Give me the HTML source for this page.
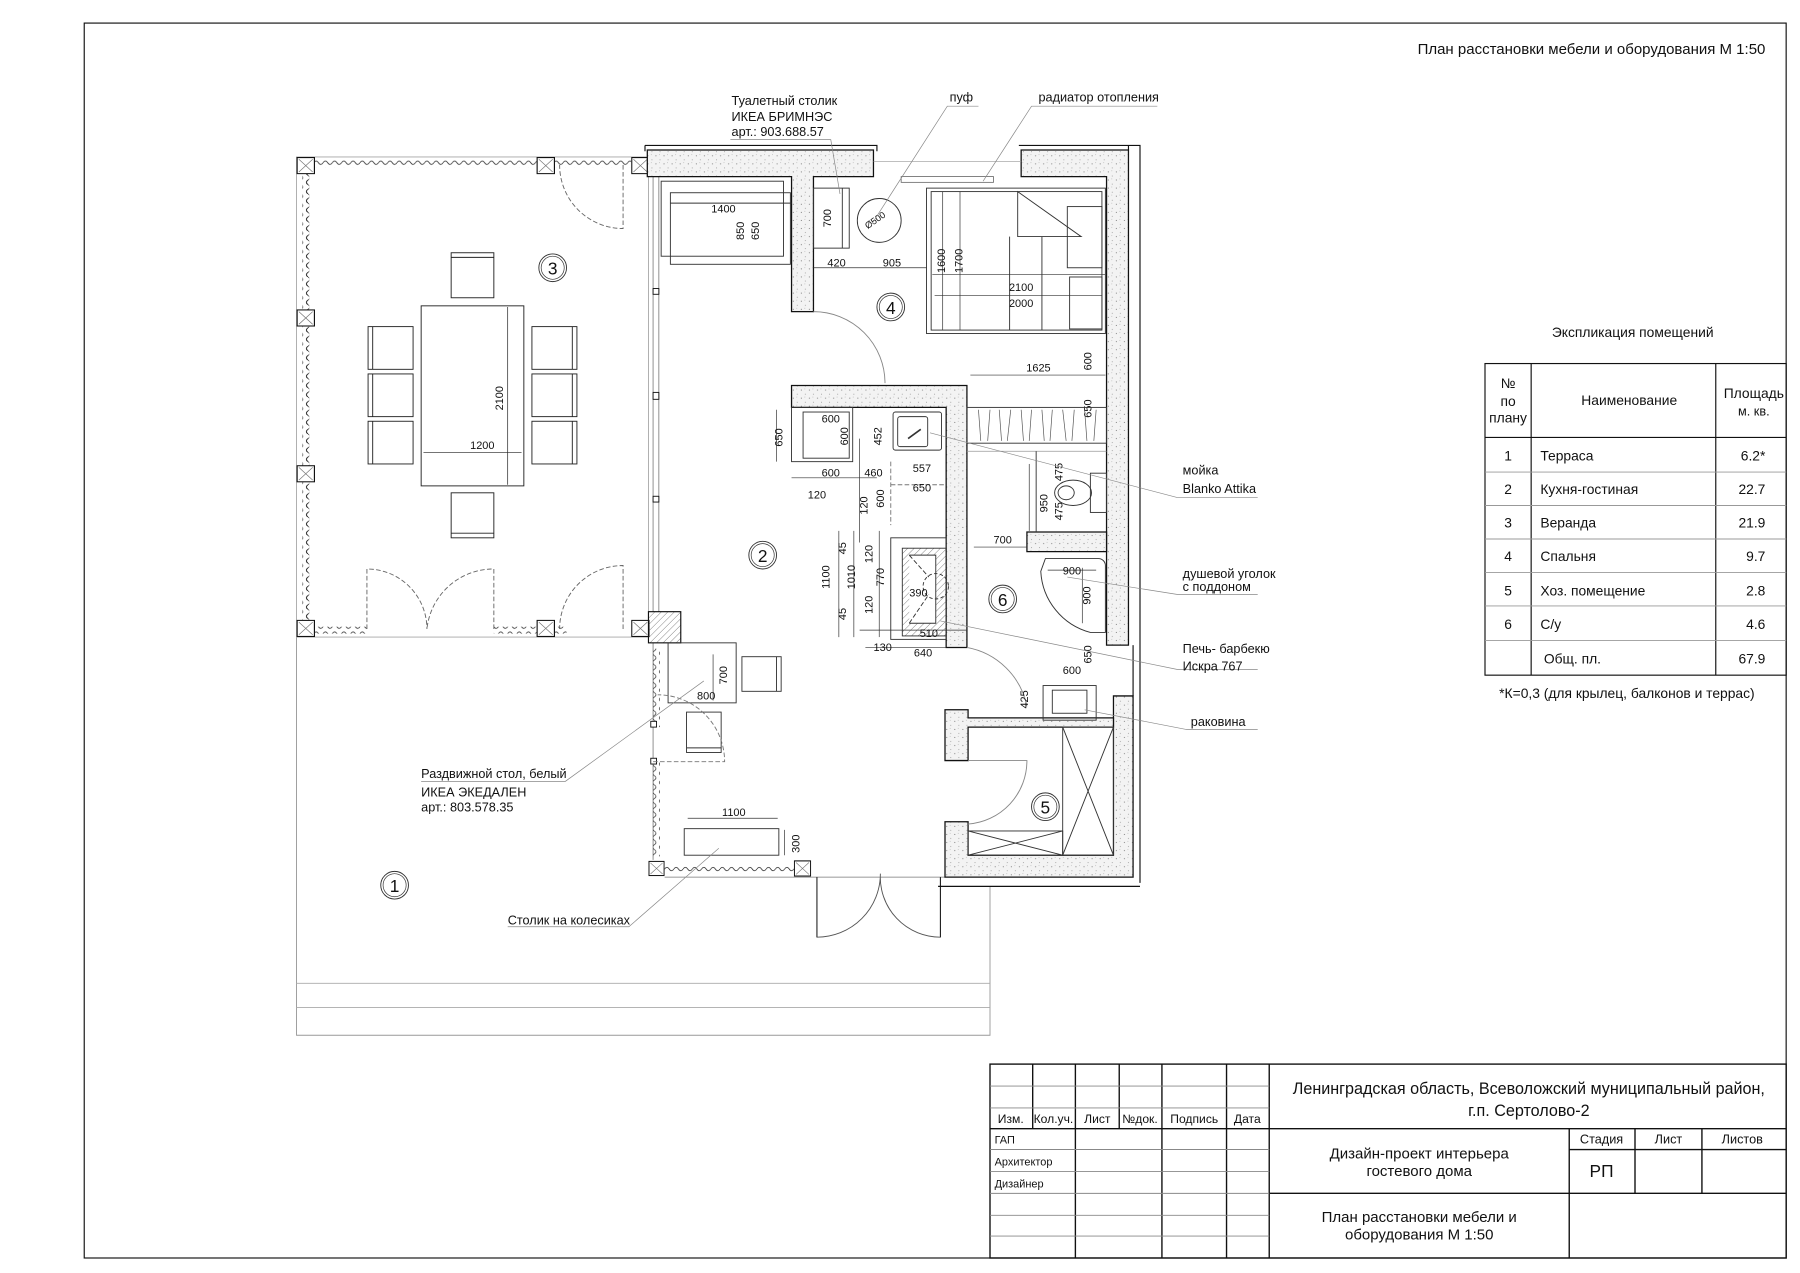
<!DOCTYPE html>
<html><head><meta charset="utf-8"><style>
html,body{margin:0;padding:0;background:#fff;}
svg{display:block;}
text{font-family:"Liberation Sans","DejaVu Sans",sans-serif;fill:#111;}
.t{font-size:11px;}
.d{font-size:9.5px;}
</style></head><body>
<svg width="1800" height="1273" viewBox="0 0 1560 1103" preserveAspectRatio="none" xmlns="http://www.w3.org/2000/svg">
<defs>
<pattern id="st" width="7" height="7" patternUnits="userSpaceOnUse">
<rect width="7" height="7" fill="#f3f3f3"/>
<circle cx="1.5" cy="2" r="0.45" fill="#666"/><circle cx="5" cy="5.5" r="0.4" fill="#777"/><circle cx="4.5" cy="1" r="0.3" fill="#888"/>
</pattern>
<pattern id="wv" width="6" height="8" patternUnits="userSpaceOnUse">
<path d="M3 0 Q6 2 3 4 Q0 6 3 8" fill="none" stroke="#222" stroke-width="0.6"/>
</pattern>
<pattern id="wh" width="8" height="6" patternUnits="userSpaceOnUse">
<path d="M0 3 Q2 0 4 3 Q6 6 8 3" fill="none" stroke="#222" stroke-width="0.6"/>
</pattern>
<pattern id="hh" width="4" height="4" patternUnits="userSpaceOnUse" patternTransform="rotate(45)">
<line x1="0" y1="0" x2="0" y2="4" stroke="#555" stroke-width="0.6"/>
</pattern>
<symbol id="post" viewBox="0 0 16 15"><rect x="0.5" y="0.5" width="15" height="14" fill="#fff" stroke="#111" stroke-width="1"/><path d="M2 2 L14 13 M14 2 L2 13" stroke="#777" stroke-width="0.6"/></symbol>
</defs>

<!-- frame -->
<rect x="73" y="20" width="1475" height="1070" fill="none" stroke="#111" stroke-width="1"/>
<text x="1530" y="47" text-anchor="end" style="font-size:13px">План расстановки мебели и оборудования М 1:50</text>

<g fill="none" stroke="#222" stroke-width="0.8">
<!-- terrace -->
<path d="M257 552 V897 H858 V768" stroke="#999"/>
<line x1="257" y1="852" x2="858" y2="852" stroke="#aaa"/>
<line x1="257" y1="873" x2="858" y2="873" stroke="#aaa"/>
<!-- veranda outline -->
<rect x="257" y="136" width="305" height="416" stroke="#aaa"/>
<rect x="264" y="144" width="3" height="400" fill="url(#wv)" stroke="none"/>
<rect x="262" y="141" width="6" height="403" fill="url(#wv)" stroke="none"/>
<rect x="273" y="139" width="192" height="6" fill="url(#wh)" stroke="none"/>
<rect x="481" y="139" width="66" height="6" fill="url(#wh)" stroke="none"/>
<rect x="273" y="543" width="45" height="6" fill="url(#wh)" stroke="none"/>
<rect x="428" y="543" width="37" height="6" fill="url(#wh)" stroke="none"/>
<rect x="481" y="543" width="10" height="6" fill="url(#wh)" stroke="none"/>
<!-- doors veranda (dashed) -->
<g stroke="#666" stroke-dasharray="4 2">
<path d="M540 143 V198 A55 55 0 0 1 485 143"/>
<path d="M318 545 V493 A52 52 0 0 1 370 545"/>
<path d="M428 545 V493 A58 58 0 0 0 370 545"/>
<path d="M540 545 V490 A55 55 0 0 0 485 545"/>
</g>
<!-- dining table & chairs -->
<rect x="365" y="265" width="89" height="156"/>
<rect x="391" y="219" width="37" height="39"/><line x1="391" y1="223" x2="428" y2="223"/>
<rect x="391" y="427" width="37" height="39"/><line x1="391" y1="462" x2="428" y2="462"/>
<rect x="319" y="283" width="39" height="37"/><rect x="319" y="324" width="39" height="37"/><rect x="319" y="365" width="39" height="37"/>
<path d="M323 283V320M323 324V361M323 365V402"/>
<rect x="461" y="283" width="39" height="37"/><rect x="461" y="324" width="39" height="37"/><rect x="461" y="365" width="39" height="37"/>
<path d="M496 283V320M496 324V361M496 365V402"/>
<line x1="367" y1="392" x2="452" y2="392" stroke-width="0.6"/>
<line x1="440" y1="266" x2="440" y2="420" stroke-width="0.6"/>
</g>
<text x="418" y="389" class="d" text-anchor="middle">1200</text>
<text x="436" y="345" class="d" transform="rotate(-90 436 345)" text-anchor="middle">2100</text>
<!-- posts -->
<use href="#post" x="257" y="136" width="16" height="15"/>
<use href="#post" x="465" y="136" width="16" height="15"/>
<use href="#post" x="547" y="136" width="16" height="15"/>
<use href="#post" x="257" y="268" width="16" height="15"/>
<use href="#post" x="257" y="403" width="16" height="15"/>
<use href="#post" x="257" y="537" width="16" height="15"/>
<use href="#post" x="465" y="537" width="16" height="15"/>
<use href="#post" x="547" y="537" width="16" height="15"/>
<use href="#post" x="562" y="745" width="14" height="15"/>
<use href="#post" x="688" y="745" width="15" height="15"/>
<circle cx="479" cy="232" r="12" fill="none" stroke="#333" stroke-width="0.8"/><circle cx="479" cy="232" r="10" fill="none" stroke="#333" stroke-width="0.6"/>
<text x="479" y="238" text-anchor="middle" style="font-size:15px">3</text>

<!-- living glass wall -->
<g fill="none" stroke="#777" stroke-width="0.7">
<line x1="566" y1="153" x2="566" y2="530"/><line x1="571" y1="153" x2="571" y2="530"/>
<line x1="566" y1="557" x2="566" y2="745"/>
<line x1="576" y1="760" x2="858" y2="760"/>
</g>
<rect x="566" y="562" width="6" height="68" fill="url(#wv)"/>
<rect x="566" y="660" width="6" height="82" fill="url(#wv)"/>
<rect x="576" y="751" width="112" height="6" fill="url(#wh)"/>
<g fill="#fff" stroke="#111" stroke-width="0.8">
<rect x="566" y="250" width="5" height="5"/><rect x="566" y="340" width="5" height="6"/><rect x="566" y="430" width="5" height="5"/>
<rect x="564" y="625" width="5" height="5"/><rect x="564" y="657" width="5" height="5"/>
</g>
<rect x="562" y="530" width="28" height="27" fill="url(#hh)" stroke="#111" stroke-width="1"/>
<!-- small dining -->
<g fill="none" stroke="#333" stroke-width="0.8">
<rect x="579" y="557" width="59" height="52"/>
<rect x="643" y="569" width="34" height="30"/><line x1="673" y1="569" x2="673" y2="599"/>
<rect x="595" y="617" width="30" height="35"/><line x1="595" y1="648" x2="625" y2="648"/>
<path d="M566 660 H628 A58 58 0 0 0 570 602" stroke="#777" stroke-dasharray="4 2"/>
<rect x="593" y="718" width="82" height="23"/>
<line x1="596" y1="709" x2="674" y2="709" stroke-width="0.6"/>
<line x1="680" y1="719" x2="680" y2="741" stroke-width="0.6"/>
<line x1="618" y1="567" x2="618" y2="607" stroke-width="0.6"/>
<!-- entry door -->
<path d="M708 760 V812 A55 55 0 0 0 763 757 M815 760 V812 A52 52 0 0 1 763 757" stroke="#555"/>
<path d="M708 760 V812 M815 760 V812" stroke="#111"/>
</g>
<text x="612" y="606" class="d" text-anchor="middle">800</text>
<text x="630" y="585" class="d" transform="rotate(-90 630 585)" text-anchor="middle">700</text>
<text x="636" y="707" class="d" text-anchor="middle">1100</text>
<text x="693" y="731" class="d" transform="rotate(-90 693 731)" text-anchor="middle">300</text>

<!-- walls -->
<g fill="url(#st)" stroke="#111" stroke-width="1.1">
<path d="M561 130 H757 V153 H705 V270 H686 V153 H561 Z"/>
<path d="M885 130 H978 V559 H959 V153 H885 Z"/>
<path d="M686 334 H838 V561 H820 V353 H686 Z"/>
<path d="M890 461 H959 V478 H890 Z"/>
<path d="M965 603 H982 V760 H819 V712 H839 V741 H965 Z"/>
<path d="M819 615 H839 V622 H965 V630 H839 V659 H819 Z"/>
</g>
<g fill="none" stroke="#111" stroke-width="1">
<path d="M559 126 H760 V131 M559 126 V131"/>
<path d="M883 126 H988 V765 M978 126 V130"/>
<path d="M813 768 H988"/>
<line x1="982" y1="559" x2="982" y2="603"/>
</g>
<g stroke="#999" stroke-width="0.6">
<line x1="757" y1="140" x2="885" y2="140"/>
<line x1="838" y1="391" x2="959" y2="391"/>
</g>
<!-- radiator -->
<rect x="781" y="153" width="80" height="5" fill="none" stroke="#666" stroke-width="0.7"/>

<!-- bedroom furniture -->
<g fill="none" stroke="#333" stroke-width="0.8">
<rect x="573" y="157" width="106" height="65"/><rect x="581" y="167" width="104" height="62"/>
<line x1="581" y1="176" x2="686" y2="176"/>
<rect x="705" y="163" width="31" height="52"/><line x1="730" y1="163" x2="730" y2="215"/>
<circle cx="762" cy="191" r="19"/>
<rect x="803" y="163" width="155" height="126"/><rect x="807" y="166" width="148" height="120"/>
<path d="M882 166 V205 H937 Z"/>
<line x1="875" y1="205" x2="875" y2="286"/>
<line x1="903" y1="205" x2="903" y2="286"/>
<rect x="925" y="179" width="30" height="53"/><rect x="927" y="240" width="28" height="45"/>
<line x1="808" y1="238" x2="958" y2="238" stroke-width="0.6"/>
<line x1="810" y1="256" x2="955" y2="256" stroke-width="0.6"/>
<line x1="817" y1="166" x2="817" y2="286" stroke-width="0.6"/>
<line x1="832" y1="166" x2="832" y2="286" stroke-width="0.6"/>
<line x1="705" y1="232" x2="803" y2="232" stroke-width="0.6"/>
<line x1="841" y1="325" x2="958" y2="325" stroke-width="0.6"/>
<path d="M705 270 A62 62 0 0 1 767 332" stroke="#888"/>
</g>
<text x="627" y="184" class="d" text-anchor="middle">1400</text>
<text x="645" y="200" class="d" transform="rotate(-90 645 200)" text-anchor="middle">850</text>
<text x="658" y="200" class="d" transform="rotate(-90 658 200)" text-anchor="middle">650</text>
<text x="720" y="189" class="d" transform="rotate(-90 720 189)" text-anchor="middle">700</text>
<text x="760" y="193" style="font-size:8px" transform="rotate(-35 760 193)" text-anchor="middle">Ø500</text>
<text x="725" y="231" class="d" text-anchor="middle">420</text>
<text x="773" y="231" class="d" text-anchor="middle">905</text>
<text x="819" y="226" class="d" transform="rotate(-90 819 226)" text-anchor="middle">1600</text>
<text x="834" y="226" class="d" transform="rotate(-90 834 226)" text-anchor="middle">1700</text>
<text x="885" y="252" class="d" text-anchor="middle">2100</text>
<text x="885" y="266" class="d" text-anchor="middle">2000</text>
<text x="900" y="322" class="d" text-anchor="middle">1625</text>
<text x="946" y="313" class="d" transform="rotate(-90 946 313)" text-anchor="middle">600</text>
<text x="946" y="354" class="d" transform="rotate(-90 946 354)" text-anchor="middle">650</text>
<circle cx="772" cy="266" r="12" fill="none" stroke="#333" stroke-width="0.8"/><circle cx="772" cy="266" r="10" fill="none" stroke="#333" stroke-width="0.6"/>
<text x="772" y="272" text-anchor="middle" style="font-size:15px">4</text>

<!-- wardrobe -->
<rect x="838" y="353" width="121" height="31" fill="none" stroke="#333" stroke-width="0.8"/>
<g stroke="#555" stroke-width="0.6">
<path d="M848 355 L850 382 M858 355 L856 382 M866 355 L868 382 M876 355 L873 382 M885 355 L887 382 M894 355 L892 382 M903 355 L905 382 M912 355 L910 382 M921 355 L924 382 M931 355 L929 382 M940 355 L942 382 M950 355 L948 382"/>
</g>

<!-- kitchen -->
<g fill="none" stroke="#333" stroke-width="0.8">
<rect x="686" y="353" width="53" height="47"/><rect x="696" y="357" width="40" height="40"/>
<rect x="774" y="357" width="42" height="33" rx="2"/><rect x="778" y="361" width="26" height="26" rx="2"/>
<line x1="787" y1="380" x2="798" y2="372" stroke-width="1.4"/>
<path d="M772 400 V455 M772 420 H820" stroke-dasharray="4 2" stroke="#777"/>
<rect x="772" y="466" width="48" height="88"/>
<rect x="782" y="475" width="38" height="76" fill="url(#hh)"/>
<path d="M788 481 H811 V540 H788" fill="#fff"/>
<circle cx="811" cy="508" r="11" stroke-dasharray="3 2"/>
<path d="M788 481 L805 500 M788 540 L805 515" stroke-dasharray="4 2"/>
<line x1="686" y1="414" x2="760" y2="414" stroke-width="0.6"/>
<line x1="745" y1="380" x2="745" y2="470" stroke-width="0.6"/>
<line x1="745" y1="546" x2="838" y2="546" stroke-width="0.6"/>
<line x1="750" y1="561" x2="820" y2="561" stroke-width="0.6"/>
<line x1="727" y1="460" x2="727" y2="552" stroke-width="0.6"/>
<line x1="740" y1="460" x2="740" y2="552" stroke-width="0.6"/>
<line x1="762" y1="460" x2="762" y2="552" stroke-width="0.6"/>
<line x1="673" y1="355" x2="673" y2="400" stroke-width="0.6"/>
</g>
<g class="d">
<text x="720" y="366" class="d" text-anchor="middle">600</text>
<text x="735" y="378" class="d" transform="rotate(-90 735 378)" text-anchor="middle">600</text>
<text x="678" y="379" class="d" transform="rotate(-90 678 379)" text-anchor="middle">650</text>
<text x="764" y="378" class="d" transform="rotate(-90 764 378)" text-anchor="middle">452</text>
<text x="720" y="413" class="d" text-anchor="middle">600</text>
<text x="757" y="413" class="d" text-anchor="middle">460</text>
<text x="799" y="409" class="d" text-anchor="middle">557</text>
<text x="708" y="432" class="d" text-anchor="middle">120</text>
<text x="799" y="426" class="d" text-anchor="middle">650</text>
<text x="766" y="432" class="d" transform="rotate(-90 766 432)" text-anchor="middle">600</text>
<text x="752" y="438" class="d" transform="rotate(-90 752 438)" text-anchor="middle">120</text>
<text x="733" y="475" class="d" transform="rotate(-90 733 475)" text-anchor="middle">45</text>
<text x="756" y="480" class="d" transform="rotate(-90 756 480)" text-anchor="middle">120</text>
<text x="719" y="500" class="d" transform="rotate(-90 719 500)" text-anchor="middle">1100</text>
<text x="741" y="500" class="d" transform="rotate(-90 741 500)" text-anchor="middle">1010</text>
<text x="766" y="500" class="d" transform="rotate(-90 766 500)" text-anchor="middle">770</text>
<text x="796" y="517" class="d" text-anchor="middle">390</text>
<text x="756" y="524" class="d" transform="rotate(-90 756 524)" text-anchor="middle">120</text>
<text x="733" y="532" class="d" transform="rotate(-90 733 532)" text-anchor="middle">45</text>
<text x="805" y="552" class="d" text-anchor="middle">510</text>
<text x="765" y="564" class="d" text-anchor="middle">130</text>
<text x="800" y="569" class="d" text-anchor="middle">640</text>
</g>
<circle cx="661" cy="481" r="12" fill="none" stroke="#333" stroke-width="0.8"/><circle cx="661" cy="481" r="10" fill="none" stroke="#333" stroke-width="0.6"/>
<text x="661" y="487" text-anchor="middle" style="font-size:15px">2</text>

<!-- bathroom -->
<g fill="none" stroke="#333" stroke-width="0.8">
<line x1="898" y1="391" x2="898" y2="461"/>
<rect x="945" y="410" width="14" height="34"/>
<ellipse cx="930" cy="427" rx="16" ry="11"/><ellipse cx="924" cy="427" rx="7" ry="6"/>
<path d="M906 484 H952 A6 6 0 0 1 958 490 V548 H945 A58 58 0 0 1 902 495 Z"/>
<line x1="908" y1="494" x2="950" y2="494" stroke-width="0.6"/>
<line x1="938" y1="492" x2="938" y2="540" stroke-width="0.6"/>
<line x1="892" y1="402" x2="892" y2="460" stroke-width="0.6"/>
<line x1="844" y1="474" x2="890" y2="474" stroke-width="0.6"/>
<path d="M838 561 A65 65 0 0 1 890 612" stroke="#888"/>
<rect x="904" y="594" width="46" height="30"/><rect x="912" y="598" width="30" height="20"/>
<path d="M839 659 H890 A55 55 0 0 1 839 714" stroke="#888"/>
<rect x="921" y="630" width="44" height="111"/><path d="M921 630 L965 741 M965 630 L921 741"/>
<rect x="839" y="720" width="82" height="21"/><path d="M839 720 L921 741 M921 720 L839 741"/>
</g>
<text x="908" y="436" class="d" transform="rotate(-90 908 436)" text-anchor="middle">950</text>
<text x="921" y="409" class="d" transform="rotate(-90 921 409)" text-anchor="middle">475</text>
<text x="921" y="443" class="d" transform="rotate(-90 921 443)" text-anchor="middle">475</text>
<text x="869" y="471" class="d" text-anchor="middle">700</text>
<text x="929" y="498" class="d" text-anchor="middle">900</text>
<text x="945" y="516" class="d" transform="rotate(-90 945 516)" text-anchor="middle">900</text>
<text x="929" y="584" class="d" text-anchor="middle">600</text>
<text x="946" y="567" class="d" transform="rotate(-90 946 567)" text-anchor="middle">650</text>
<text x="891" y="606" class="d" transform="rotate(-90 891 606)" text-anchor="middle">425</text>
<circle cx="869" cy="519" r="12" fill="none" stroke="#333" stroke-width="0.8"/><circle cx="869" cy="519" r="10" fill="none" stroke="#333" stroke-width="0.6"/>
<text x="869" y="525" text-anchor="middle" style="font-size:15px">6</text>
<circle cx="906" cy="699" r="12" fill="none" stroke="#333" stroke-width="0.8"/><circle cx="906" cy="699" r="10" fill="none" stroke="#333" stroke-width="0.6"/>
<text x="906" y="705" text-anchor="middle" style="font-size:15px">5</text>
<circle cx="342" cy="767" r="12" fill="none" stroke="#333" stroke-width="0.8"/><circle cx="342" cy="767" r="10" fill="none" stroke="#333" stroke-width="0.6"/>
<text x="342" y="773" text-anchor="middle" style="font-size:15px">1</text>

<!-- leaders -->
<g fill="none" stroke="#888" stroke-width="0.6">
<path d="M633 121 H720 L728 168"/>
<path d="M848 92 H821 L755 195"/>
<path d="M1003 92 H894 L852 157"/>
<path d="M1090 431 H1020 L806 375"/>
<path d="M1090 515 H1020 L925 500"/>
<path d="M1090 580 H1020 L815 538"/>
<path d="M1090 632 H1028 L940 615"/>
<path d="M365 677 H490 L610 590"/>
<path d="M440 803 H545 L623 735"/>
</g>
<g class="t">
<text x="634" y="91" class="t">Туалетный столик</text>
<text x="634" y="105" class="t">ИКЕА БРИМНЭС</text>
<text x="634" y="118" class="t">арт.: 903.688.57</text>
<text x="823" y="88" class="t">пуф</text>
<text x="900" y="88" class="t">радиатор отопления</text>
<text x="1025" y="411" class="t">мойка</text>
<text x="1025" y="427" class="t">Blanko Attika</text>
<text x="1025" y="501" class="t">душевой уголок</text>
<text x="1025" y="512" class="t">с поддоном</text>
<text x="1025" y="566" class="t">Печь- барбекю</text>
<text x="1025" y="581" class="t">Искра 767</text>
<text x="1032" y="629" class="t">раковина</text>
<text x="365" y="674" class="t">Раздвижной стол, белый</text>
<text x="365" y="690" class="t">ИКЕА ЭКЕДАЛЕН</text>
<text x="365" y="703" class="t">арт.: 803.578.35</text>
<text x="440" y="801" class="t">Столик на колесиках</text>
</g>

<!-- explication table -->
<text x="1415" y="292" text-anchor="middle" style="font-size:12px">Экспликация помещений</text>
<g stroke="#111" fill="none" stroke-width="1">
<rect x="1287" y="315" width="261" height="270"/>
<line x1="1287" y1="379" x2="1548" y2="379"/>
<line x1="1327" y1="315" x2="1327" y2="585"/>
<line x1="1487" y1="315" x2="1487" y2="585"/>
</g>
<g stroke="#999" stroke-width="0.8">
<line x1="1287" y1="409" x2="1548" y2="409"/><line x1="1287" y1="438" x2="1548" y2="438"/>
<line x1="1287" y1="467" x2="1548" y2="467"/><line x1="1287" y1="496" x2="1548" y2="496"/>
<line x1="1287" y1="525" x2="1548" y2="525"/><line x1="1287" y1="555" x2="1548" y2="555"/>
</g>
<g style="font-size:12px">
<text x="1307" y="336" text-anchor="middle" style="font-size:12px">№</text>
<text x="1307" y="352" text-anchor="middle" style="font-size:12px">по</text>
<text x="1307" y="366" text-anchor="middle" style="font-size:12px">плану</text>
<text x="1412" y="351" text-anchor="middle" style="font-size:12px">Наименование</text>
<text x="1520" y="345" text-anchor="middle" style="font-size:12px">Площадь</text>
<text x="1520" y="360" text-anchor="middle" style="font-size:11px">м. кв.</text>
<text x="1307" y="399" text-anchor="middle" style="font-size:12px">1</text><text x="1335" y="399" style="font-size:12px">Терраса</text><text x="1530" y="399" text-anchor="end" style="font-size:12px">6.2*</text>
<text x="1307" y="428" text-anchor="middle" style="font-size:12px">2</text><text x="1335" y="428" style="font-size:12px">Кухня-гостиная</text><text x="1530" y="428" text-anchor="end" style="font-size:12px">22.7</text>
<text x="1307" y="457" text-anchor="middle" style="font-size:12px">3</text><text x="1335" y="457" style="font-size:12px">Веранда</text><text x="1530" y="457" text-anchor="end" style="font-size:12px">21.9</text>
<text x="1307" y="486" text-anchor="middle" style="font-size:12px">4</text><text x="1335" y="486" style="font-size:12px">Спальня</text><text x="1530" y="486" text-anchor="end" style="font-size:12px">9.7</text>
<text x="1307" y="516" text-anchor="middle" style="font-size:12px">5</text><text x="1335" y="516" style="font-size:12px">Хоз. помещение</text><text x="1530" y="516" text-anchor="end" style="font-size:12px">2.8</text>
<text x="1307" y="545" text-anchor="middle" style="font-size:12px">6</text><text x="1335" y="545" style="font-size:12px">С/у</text><text x="1530" y="545" text-anchor="end" style="font-size:12px">4.6</text>
<text x="1338" y="575" style="font-size:12px">Общ. пл.</text><text x="1530" y="575" text-anchor="end" style="font-size:12px">67.9</text>
<text x="1410" y="605" text-anchor="middle" style="font-size:12px">*К=0,3 (для крылец, балконов и террас)</text>
</g>

<!-- title block -->
<g stroke="#111" fill="none" stroke-width="1.2">
<rect x="858" y="922" width="690" height="168"/>
<line x1="1100" y1="922" x2="1100" y2="1090"/>
<line x1="858" y1="978" x2="1548" y2="978"/>
<line x1="1100" y1="1034" x2="1548" y2="1034"/>
<line x1="1360" y1="978" x2="1360" y2="1090"/>
<line x1="1360" y1="996" x2="1548" y2="996"/>
<line x1="1417" y1="978" x2="1417" y2="1034"/>
<line x1="1475" y1="978" x2="1475" y2="1034"/>
<line x1="895" y1="922" x2="895" y2="978"/><line x1="970" y1="922" x2="970" y2="978"/>
<line x1="932" y1="922" x2="932" y2="1090"/><line x1="1007" y1="922" x2="1007" y2="1090"/><line x1="1063" y1="922" x2="1063" y2="1090"/>
</g>
<g stroke="#888" stroke-width="0.8">
<line x1="858" y1="941" x2="1100" y2="941"/><line x1="858" y1="960" x2="1100" y2="960"/>
<line x1="858" y1="996" x2="1100" y2="996"/><line x1="858" y1="1015" x2="1100" y2="1015"/>
<line x1="858" y1="1034" x2="1100" y2="1034"/><line x1="858" y1="1053" x2="1100" y2="1053"/>
<line x1="858" y1="1071" x2="1100" y2="1071"/>
</g>
<g style="font-size:10.5px">
<text x="876" y="973" text-anchor="middle" style="font-size:10.5px">Изм.</text>
<text x="913" y="973" text-anchor="middle" style="font-size:10.5px">Кол.уч.</text>
<text x="951" y="973" text-anchor="middle" style="font-size:10.5px">Лист</text>
<text x="988" y="973" text-anchor="middle" style="font-size:10.5px">№док.</text>
<text x="1035" y="973" text-anchor="middle" style="font-size:10.5px">Подпись</text>
<text x="1081" y="973" text-anchor="middle" style="font-size:10.5px">Дата</text>
<text x="862" y="991" style="font-size:9.5px">ГАП</text>
<text x="862" y="1010" style="font-size:9.5px">Архитектор</text>
<text x="862" y="1029" style="font-size:9.5px">Дизайнер</text>
</g>
<text x="1325" y="948" text-anchor="middle" style="font-size:14px">Ленинградская область, Всеволожский муниципальный район,</text>
<text x="1325" y="967" text-anchor="middle" style="font-size:14px">г.п. Сертолово-2</text>
<text x="1230" y="1004" text-anchor="middle" style="font-size:13px">Дизайн-проект интерьера</text>
<text x="1230" y="1019" text-anchor="middle" style="font-size:13px">гостевого дома</text>
<text x="1230" y="1059" text-anchor="middle" style="font-size:13px">План расстановки мебели и</text>
<text x="1230" y="1074" text-anchor="middle" style="font-size:13px">оборудования М 1:50</text>
<text x="1388" y="991" text-anchor="middle" style="font-size:11px">Стадия</text>
<text x="1446" y="991" text-anchor="middle" style="font-size:11px">Лист</text>
<text x="1510" y="991" text-anchor="middle" style="font-size:11px">Листов</text>
<text x="1388" y="1020" text-anchor="middle" style="font-size:15px">РП</text>
</svg>
</body></html>
